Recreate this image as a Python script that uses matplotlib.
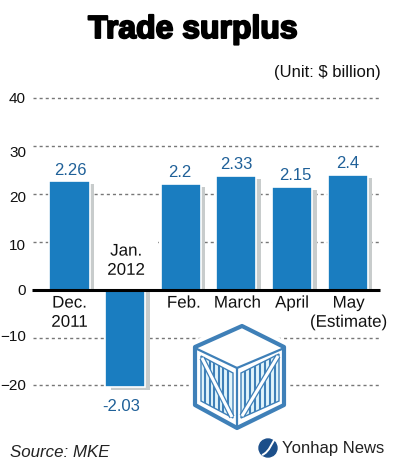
import numpy as np
import matplotlib
matplotlib.use('Agg')
import matplotlib.pyplot as plt
import matplotlib.patheffects as pe
from matplotlib.patches import Polygon, Circle, Rectangle, PathPatch
from matplotlib.path import Path
from matplotlib.transforms import ScaledTranslation

## Data
months = ['Dec.\n2011', 'Jan.\n2012', 'Feb.', 'March', 'April', 'May\n(Estimate)']
surplus = [22.6, -20.3, 22.0, 23.7, 21.5, 24.0]
value_labels = ['2.26', '-2.03', '2.2', '2.33', '2.15', '2.4']
yticks = [40, 30, 20, 10, 0, -10, -20]

W, H = 404, 473
BLUE = '#1a7dc0'
LABEL_BLUE = '#1f6098'
CRATE = '#3f80b8'
PANEL = '#e2f5fb'
PX = 0.72  # points per pixel at dpi 100

plt.rcParams['font.family'] = ['Liberation Sans', 'DejaVu Sans']

fig = plt.figure(figsize=(W/100, H/100), dpi=100, facecolor='white')

## Axes placed by pixels
left, right, top, bottom = 33, 381, 98, 395
ax = fig.add_axes([left/W, 1 - bottom/H, (right-left)/W, (bottom-top)/H])
ax.set_facecolor('none')
ax.set_xlim(-0.656, 5.60)
ax.set_ylim(40 - (bottom-top)/4.79, 40)
for s in ax.spines.values():
	s.set_visible(False)

ax.set_yticks(yticks)
ax.tick_params(axis='y', length=0, pad=5, labelsize=11, labelcolor='#111111')
ax.set_xticks([])
for tick in yticks:
	if tick != 0:
		ax.plot([-0.656, 5.60], [tick, tick], color='#777777', lw=1, ls=(0, (2.2, 2.2)),
			zorder=1, clip_on=False)

## Small nudges of tick labels, same order as yticks (pixels, + is down)
tick_nudge = [0, 6, 3, 3, 0, -2, -1]
for lab, dy in zip(ax.get_yticklabels(), tick_nudge):
	lab.set_transform(lab.get_transform() + ScaledTranslation(0, -dy*PX/72, fig.dpi_scale_trans))

## Blank out part of the 10 line behind Jan. label
ax.add_patch(Rectangle((0.4, 8), 1.2, 4, color='white', zorder=1.5, lw=0))

x = np.arange(len(months))
bar_w = 40/55.6
px_x = 1/55.6
px_y = 1/4.79

## Shadow then bars
shadow_y = [v - 3*px_y for v in surplus]
ax.bar(x + 5*px_x, shadow_y, width=bar_w*0.98, color='#c8cccc', zorder=2, clip_on=False)
ax.bar(x, surplus, width=bar_w, color=BLUE, edgecolor='white', linewidth=1.2, zorder=3, clip_on=False)

ax.plot([-0.67, 5.58], [0, 0], color='black', lw=2.2, zorder=4, solid_capstyle='butt', clip_on=False)

## Value labels
val_off = [(1, 3), (-4, -12), (-1, 4), (0, 4), (3, 4), (0, 4)]
for i, v in enumerate(surplus):
	ax.annotate(value_labels[i], (x[i], v), xytext=(val_off[i][0]*PX, val_off[i][1]*PX),
		textcoords='offset points', ha='center', va='bottom' if v > 0 else 'top',
		color=LABEL_BLUE, fontsize=12, zorder=6, annotation_clip=False)

## Month labels
lab_off = [(0, -6), (1, 46), (3, -6), (1, -6), (0, -6), (1, -6)]
halo = [pe.withStroke(linewidth=1.5, foreground='white')]
for i, m in enumerate(months):
	ax.annotate(m, (x[i], 0), xytext=(lab_off[i][0]*PX, lab_off[i][1]*PX),
		textcoords='offset points', ha='center', va='top', color='#111111',
		fontsize=12.2, linespacing=1.35, zorder=6, path_effects=halo,
		annotation_clip=False)

## Overlay in pixel coords for crate, logo and texts
ov = fig.add_axes([0, 0, 1, 1], facecolor='none')
ov.set_xlim(0, W)
ov.set_ylim(H, 0)
ov.axis('off')

## Crate
outline = [(242, 326), (284, 347), (284, 405), (237, 428), (195, 405), (195, 347)]
ov.add_patch(Polygon(outline, closed=True, facecolor='white', edgecolor='white', lw=9, joinstyle='round'))
ov.add_patch(Polygon(outline, closed=True, facecolor='white', edgecolor=CRATE, lw=3, joinstyle='round', zorder=5))
ov.plot([197, 237, 282], [349, 368, 349], color=CRATE, lw=1.6, zorder=5)
ov.plot([237, 237], [368, 426], color=CRATE, lw=1.6, zorder=5)

left_panel = [(201, 356), (233, 373), (233, 418), (201, 401)]
right_panel = [(241, 373), (279, 354), (279, 401), (241, 418)]
for panel, slat_x in [(left_panel, np.arange(205, 232, 4.5)), (right_panel, np.arange(245, 278, 5))]:
	ov.add_patch(Polygon(panel, closed=True, facecolor=PANEL, edgecolor=CRATE, lw=1, zorder=5))
	xs = np.array([p[0] for p in panel])
	for sx in slat_x:
		t = (sx - xs[0]) / (xs[1] - xs[0])
		y0 = panel[0][1] + t*(panel[1][1] - panel[0][1])
		y1 = panel[3][1] + t*(panel[2][1] - panel[3][1])
		ov.plot([sx, sx], [y0, y1], color=CRATE, lw=1.5, zorder=5.1, solid_capstyle='butt')
for p0, p1 in [((202, 358), (232, 417)), ((242, 416), (278, 356))]:
	ov.plot([p0[0], p1[0]], [p0[1], p1[1]], color=CRATE, lw=4, zorder=5.2, solid_capstyle='butt')
	ov.plot([p0[0], p1[0]], [p0[1], p1[1]], color='white', lw=2.2, zorder=5.3, solid_capstyle='butt')

## Logo
ov.add_patch(Circle((268, 448), 9, color='#1c4f8a', zorder=5))
swoosh = Path([(262, 455), (270, 452), (272, 441), (276, 438)], [Path.MOVETO, Path.CURVE4, Path.CURVE4, Path.CURVE4])
ov.add_patch(PathPatch(swoosh, facecolor='none', edgecolor='white', lw=1.4, zorder=6))

## Texts
ov.text(193, 30, 'Trade surplus', ha='center', va='center', fontsize=23, fontweight='bold',
	color='black', path_effects=[pe.withStroke(linewidth=1.4, foreground='black')])
ov.text(381, 73, '(Unit: $ billion)', ha='right', va='center', fontsize=12, color='#111111')
ov.text(10, 452, 'Source: MKE', ha='left', va='center', fontsize=12.2, style='italic', color='#222222')
ov.text(282, 448, 'Yonhap News', ha='left', va='center', fontsize=12, color='#222222')

fig.savefig('out.png', dpi=100)
